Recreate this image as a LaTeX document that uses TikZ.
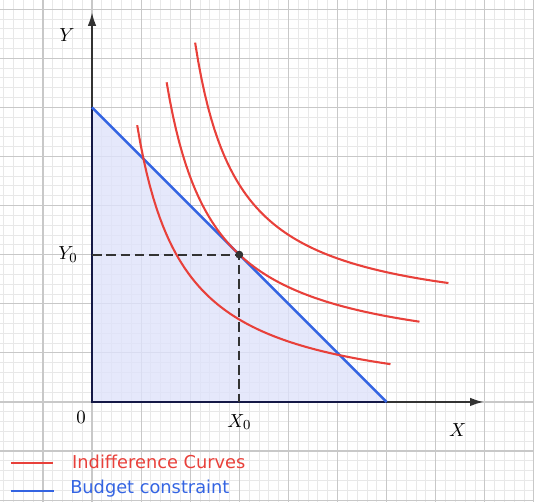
\documentclass[tikz,border=0pt]{standalone}
\usepackage{fontspec}
\newfontfamily\legendfont{DejaVu Sans}
\usetikzlibrary{arrows.meta}
\definecolor{curvered}{RGB}{232,64,58}
\definecolor{budgetblue}{RGB}{52,100,226}
\definecolor{edgenavy}{RGB}{20,24,70}
\definecolor{axisgray}{RGB}{51,51,51}
\definecolor{majorgrid}{RGB}{200,200,200}
\definecolor{minorgrid}{RGB}{232,232,232}
\definecolor{setfill}{RGB}{222,226,250}

\begin{document}
\begin{tikzpicture}[every node/.style={font=\fontsize{11}{13}\selectfont},
    indiff/.style={curvered, line width=1.2pt},
    budget/.style={budgetblue, line width=1.4pt},
    axis/.style={axisgray, line width=1.2pt, -{Latex[length=8pt,width=5pt]}},
    guide/.style={axisgray, line width=1.2pt, dash pattern=on 5.5pt off 2.8pt},
    legendtext/.style={anchor=west, inner sep=0pt, font=\legendfont\fontsize{10.3}{12}\selectfont}]
    \useasboundingbox (-1.874, -2.037) rectangle (9.002, 8.187);
    % grid paper
    \draw[minorgrid, line width=0.5pt, step=0.2] (-1.874, -2.037) grid (9.002, 8.187);
    \draw[majorgrid, line width=0.7pt, step=1] (-1.874, -2.037) grid (9.002, 8.187);
    % points
    \coordinate (O) at (0, 0);
    \coordinate (B) at (0, 6);
    \coordinate (A) at (6, 0);
    \coordinate (E) at (3, 3);
    \coordinate (Ex) at (3, 0);
    \coordinate (Ey) at (0, 3);
    \coordinate (xend) at (7.98, 0);
    \coordinate (yend) at (0, 7.94);
    % budget set
    \fill[setfill, fill opacity=0.8] (O) -- (B) -- (A) -- cycle;
    \draw[axis] (O) -- (xend);
    \draw[axis] (O) -- (yend);
    \draw[edgenavy, line width=1.4pt] (B) -- (O) -- (A);
    \draw[budget] (B) -- (A);
    % indifference curves
    \draw[indiff] plot[domain=0.92:6.08, samples=80] (\x, {-0.124 + 5.46/(\x + 0.0277)});
    \draw[indiff] plot[domain=1.52:6.67, samples=80] (\x, {0.728 + 5.54/(\x - 0.562)});
    \draw[indiff] plot[domain=2.10:7.26, samples=80] (\x, {1.583 + 5.07/(\x - 1.216)});
    % optimum
    \draw[guide] (Ey) -- (E) -- (Ex);
    \fill[axisgray] (E) circle (0.08);
    % labels
    \node (ylab) at (-0.51, 7.47) {$Y$};
    \node (xlab) at (7.45, -0.57) {$X$};
    \node (zero) at (-0.22, -0.31) {$0$};
    \node (x0) at (3.0, -0.41) {$X_0$};
    \node (y0) at (-0.49, 3.0) {$Y_0$};
    % legend
    \coordinate (r1) at (-1.65, -1.24);
    \coordinate (r2) at (-0.79, -1.24);
    \coordinate (b1) at (-1.65, -1.81);
    \coordinate (b2) at (-0.77, -1.81);
    \draw[indiff] (r1) -- (r2);
    \draw[budget] (b1) -- (b2);
    \node (redkey) [legendtext, curvered] at (-0.41, -1.22) {Indifference Curves};
    \node (bluekey) [legendtext, budgetblue] at (-0.45, -1.76) {Budget constraint};
\end{tikzpicture}
\end{document}
